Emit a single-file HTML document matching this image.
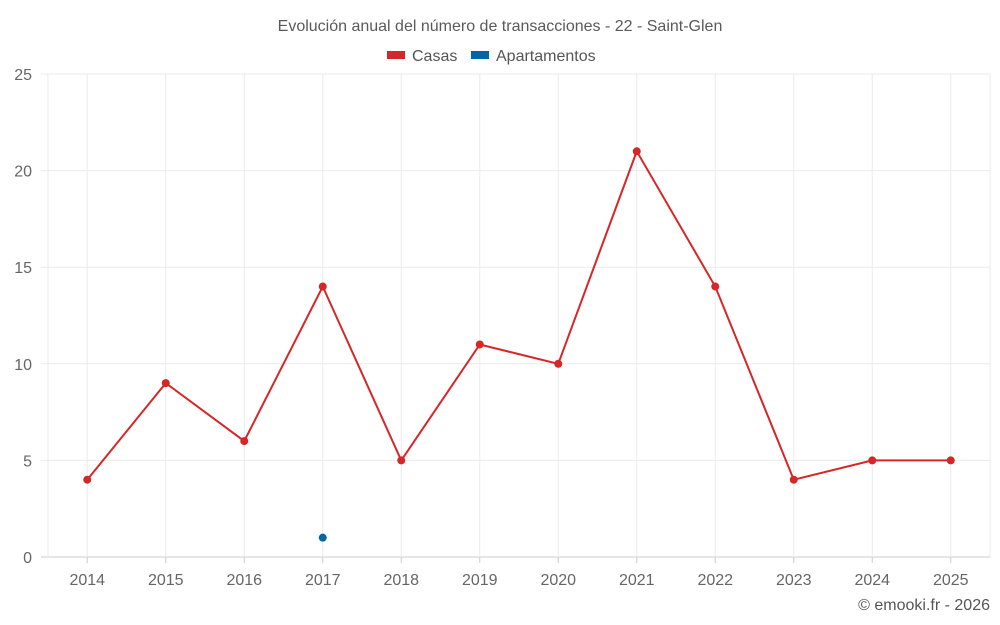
<!DOCTYPE html>
<html><head><meta charset="utf-8"><style>
html,body{margin:0;padding:0;background:#fff;}
svg{display:block;font-family:"Liberation Sans",sans-serif;}
</style></head><body>
<svg id="chart" width="1000" height="625">
<text x="500" y="31" text-anchor="middle" font-size="16" fill="#5a5a5a">Evolución anual del número de transacciones - 22 - Saint-Glen</text>
<g>
<g><rect x="387" y="51" width="18" height="8" fill="#d62728"/><text x="412" y="61" font-size="16" fill="#555">Casas</text></g>
<g><rect x="471" y="51" width="18" height="8" fill="#0066a6"/><text x="496" y="61" font-size="16" fill="#555">Apartamentos</text></g>
</g>
<g id="grid"></g>
<g id="axes"></g>
<g id="marks"></g>
<text x="990" y="610" text-anchor="end" font-size="16" fill="#555">© emooki.fr - 2026</text>
</svg>
<script>
const categories=[2014,2015,2016,2017,2018,2019,2020,2021,2022,2023,2024,2025];
const casas=[4,9,6,14,5,11,10,21,14,4,5,5];
const apartamentos=[null,null,null,1,null,null,null,null,null,null,null,null];
const yTicks=[0,5,10,15,20,25];
const L=48,R=990,T=74,B=557,yMax=25;
const bw=(R-L)/categories.length;
const x=i=>L+bw*(i+0.5);
const y=v=>B-(v/yMax)*(B-T);
const NS="http://www.w3.org/2000/svg";
function mk(tag,attrs,parent){const e=document.createElementNS(NS,tag);for(const k in attrs)e.setAttribute(k,attrs[k]);parent.appendChild(e);return e;}
const grid=document.getElementById('grid'),axes=document.getElementById('axes'),marks=document.getElementById('marks');
yTicks.forEach(t=>{
 const l=mk('line',{x1:41,x2:R,y1:y(t),y2:y(t),stroke:t===0?'#ccc':'#ebebeb','stroke-width':1},grid);
 
 
 const tx=mk('text',{x:32,y:y(t)+6,'text-anchor':'end','font-size':16,fill:'#666'},axes);
 tx.textContent=t;
 
 
});
[L,R].forEach(px=>{
 const bl=mk('line',{x1:px,x2:px,y1:T,y2:B,stroke:'#ebebeb','stroke-width':1},grid);
 
 
});
categories.forEach((c,i)=>{
 const gl=mk('line',{x1:x(i),x2:x(i),y1:T,y2:B,stroke:'#ebebeb','stroke-width':1},grid);
 
 
 const tk=mk('line',{x1:x(i),x2:x(i),y1:B,y2:B+6,stroke:'#ccc'},axes);
 
 
 const tx=mk('text',{x:x(i),y:585,'text-anchor':'middle','font-size':16,fill:'#666'},axes);
 tx.textContent=c;
 
 
});
function series(vals,color,name){
 const pts=[];vals.forEach((v,i)=>{if(v!==null)pts.push([x(i),y(v)]);});
 if(pts.length>1){
  const p=mk('polyline',{points:pts.map(p=>p.join(',')).join(' '),fill:'none',stroke:color,'stroke-width':2},marks);
  
  
 }
 pts.forEach(p=>{
  const c=mk('circle',{cx:p[0],cy:p[1],r:4,fill:color},marks);
  
  
 });
}
series(casas,'#d62728','casas');
series(apartamentos,'#0066a6','apartamentos');
</script>
</body></html>
